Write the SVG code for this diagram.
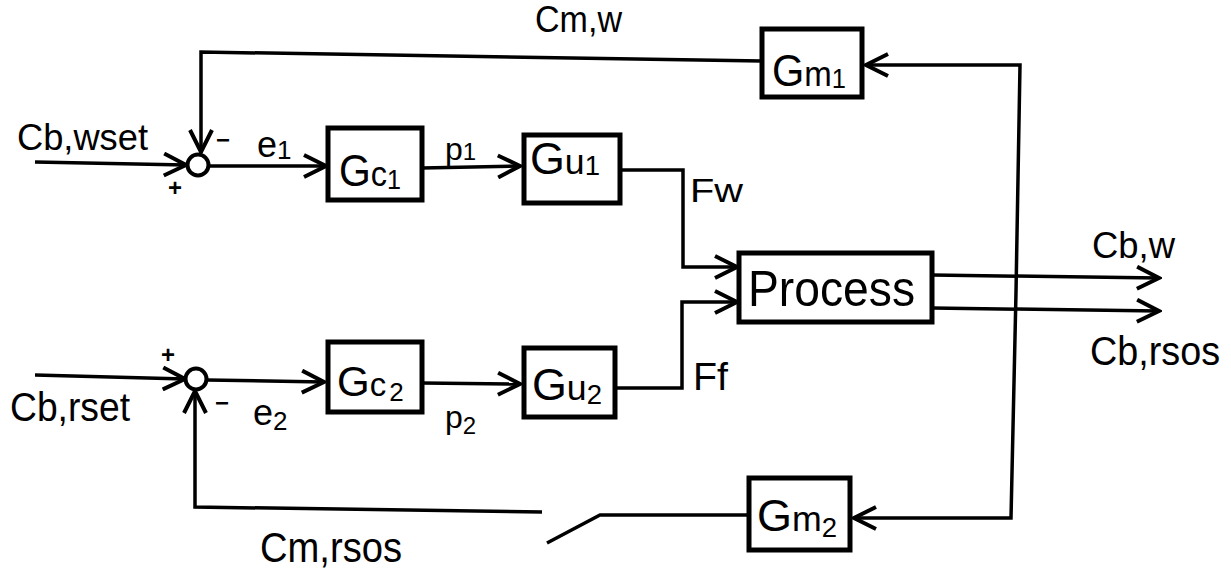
<svg xmlns="http://www.w3.org/2000/svg" width="1231" height="569" viewBox="0 0 1231 569">
<style>
  .ln { fill: none; stroke: #000; stroke-width: 3.5; stroke-linejoin: miter; }
  .box { fill: #fff; stroke: #000; stroke-width: 5; }
  .sum { fill: #fff; stroke: #000; stroke-width: 4; }
  text { font-family: "Liberation Sans", Arial, sans-serif; fill: #000; }
  .lbl { font-size: 37px; }
  .blk { font-size: 44px; }
  .sm { font-size: 35px; }
  .sub { font-size: 27px; }
  .sg { font-size: 24px; font-weight: bold; }
</style>
<defs>
  <marker id="arr" markerUnits="userSpaceOnUse" viewBox="0 0 26 26" refX="23" refY="13" markerWidth="26" markerHeight="26" orient="auto">
    <path d="M1,2 L23,13 L1,24" fill="none" stroke="#000" stroke-width="4"/>
  </marker>
</defs>

<g id="connectors">
  <polyline class="ln" points="35,162 186,165" marker-end="url(#arr)"/>
  <polyline class="ln" points="35,375 185,379" marker-end="url(#arr)"/>
  <polyline class="ln" points="209,166 326,166" marker-end="url(#arr)"/>
  <polyline class="ln" points="422,168 520,166" marker-end="url(#arr)"/>
  <polyline class="ln" points="620,170 683,170 683,267 737,267" marker-end="url(#arr)"/>
  <polyline class="ln" points="207,380 324,382" marker-end="url(#arr)"/>
  <polyline class="ln" points="422,383 520,384" marker-end="url(#arr)"/>
  <polyline class="ln" points="615,388 682,388 682,302 737,302" marker-end="url(#arr)"/>
  <polyline class="ln" points="932,275 1159,278" marker-end="url(#arr)"/>
  <polyline class="ln" points="932,308 1159,311" marker-end="url(#arr)"/>
  <polyline class="ln" points="1016,292 1020,65 866,65" marker-end="url(#arr)"/>
  <polyline class="ln" points="1016,292 1011,518 854,518" marker-end="url(#arr)"/>
  <polyline class="ln" points="762,61 201,52 201,152" marker-end="url(#arr)"/>
  <polyline class="ln" points="749,515 600,515 547,543"/>
  <polyline class="ln" points="542,512 195,507 195,391" marker-end="url(#arr)"/>
</g>

<g id="sum1"><circle class="sum" cx="198" cy="165" r="10.5"/></g>
<g id="sum2"><circle class="sum" cx="196" cy="379" r="10.5"/></g>

<g id="Gc1">
  <rect class="box" x="328" y="128" width="94" height="72"/>
  <text x="339" y="186" textLength="62" lengthAdjust="spacingAndGlyphs"><tspan class="blk">G</tspan><tspan class="sm">c</tspan><tspan class="sub" dy="3">1</tspan></text>
</g>
<g id="Gu1">
  <rect class="box" x="524" y="135" width="96" height="68"/>
  <text x="530" y="174" textLength="70" lengthAdjust="spacingAndGlyphs"><tspan class="blk">G</tspan><tspan class="sm">u</tspan><tspan class="sub" dy="1">1</tspan></text>
</g>
<g id="Gc2">
  <rect class="box" x="328" y="342" width="94" height="70"/>
  <text x="337" y="396"><tspan font-size="42">G</tspan><tspan font-size="33">c</tspan><tspan font-size="26" dx="3" dy="5">2</tspan></text>
</g>
<g id="Gu2">
  <rect class="box" x="524" y="348" width="91" height="69"/>
  <text x="532" y="400" textLength="70" lengthAdjust="spacingAndGlyphs"><tspan class="blk">G</tspan><tspan class="sm">u</tspan><tspan class="sub" dy="4">2</tspan></text>
</g>
<g id="Gm1">
  <rect class="box" x="762" y="29" width="100" height="68"/>
  <text x="772" y="86" textLength="74" lengthAdjust="spacingAndGlyphs"><tspan class="blk">G</tspan><tspan class="sm">m</tspan><tspan class="sub" dy="2">1</tspan></text>
</g>
<g id="Gm2">
  <rect class="box" x="749" y="478" width="101" height="72"/>
  <text x="757" y="531" textLength="80" lengthAdjust="spacingAndGlyphs"><tspan class="blk">G</tspan><tspan class="sm">m</tspan><tspan class="sub" dy="6">2</tspan></text>
</g>
<g id="Process">
  <rect class="box" x="739" y="253" width="193" height="69"/>
  <text x="748" y="306" font-size="50" textLength="167" lengthAdjust="spacingAndGlyphs">Process</text>
</g>

<g id="labels">
  <text class="lbl" x="17" y="150" textLength="131" lengthAdjust="spacingAndGlyphs">Cb,wset</text>
  <text x="10" y="421" font-size="40" textLength="120" lengthAdjust="spacingAndGlyphs">Cb,rset</text>
  <text class="lbl" x="535" y="32" textLength="87" lengthAdjust="spacingAndGlyphs">Cm,w</text>
  <text x="260" y="562" font-size="42" textLength="142" lengthAdjust="spacingAndGlyphs">Cm,rsos</text>
  <text class="lbl" x="1092" y="258" textLength="83" lengthAdjust="spacingAndGlyphs">Cb,w</text>
  <text x="1090" y="365" font-size="40" textLength="130" lengthAdjust="spacingAndGlyphs">Cb,rsos</text>
  <text x="690" y="202" font-size="33" textLength="53" lengthAdjust="spacingAndGlyphs">Fw</text>
  <text x="693" y="390" font-size="38" textLength="35" lengthAdjust="spacingAndGlyphs">Ff</text>
  <text x="257" y="157" font-size="36">e<tspan font-size="26" dy="2">1</tspan></text>
  <text x="253" y="425" font-size="36">e<tspan font-size="26" dy="5">2</tspan></text>
  <text x="445" y="160" font-size="32">p<tspan font-size="24" dy="0">1</tspan></text>
  <text x="445" y="428" font-size="32">p<tspan font-size="24" dy="6">2</tspan></text>
  <text class="sg" x="175" y="196" text-anchor="middle">+</text>
  <text class="sg" x="168" y="363" text-anchor="middle">+</text>
  <text class="sg" x="223" y="148" text-anchor="middle">−</text>
  <text class="sg" x="222" y="411" text-anchor="middle">−</text>
</g>
</svg>
